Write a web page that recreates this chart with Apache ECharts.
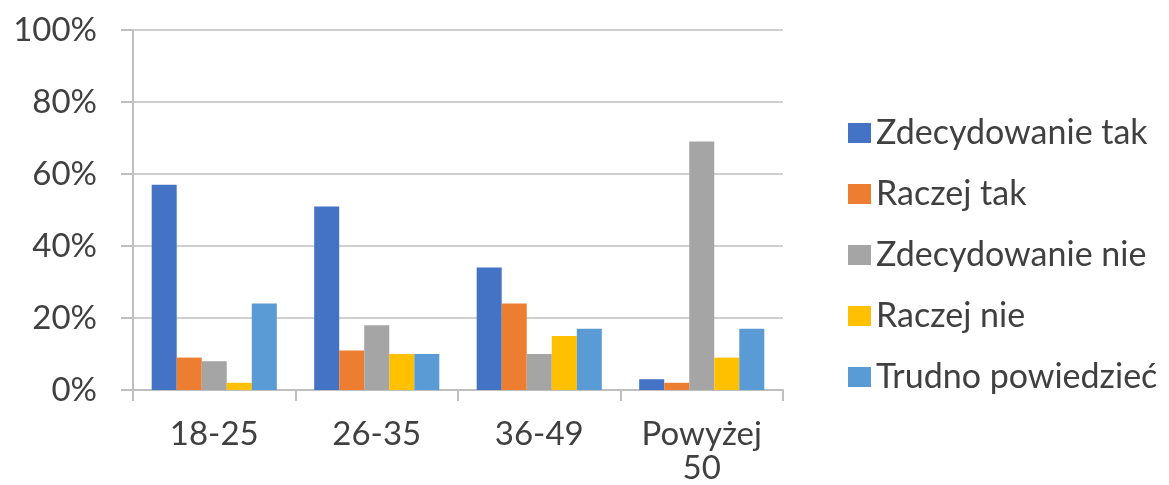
<!DOCTYPE html>
<html>
<head>
<meta charset="utf-8">
<script src="https://cdn.jsdelivr.net/npm/echarts@6/dist/echarts.min.js"></script>
<style>
  html, body { margin: 0; padding: 0; background: #fff; }
  #chart { width: 1169px; height: 485px; }
</style>
</head>
<body>
<div id="chart"></div>
<script>
const categories = ['18-25', '26-35', '36-49', 'Powyżej 50']
const seriesNames = ['Zdecydowanie tak', 'Raczej tak', 'Zdecydowanie nie', 'Raczej nie', 'Trudno powiedzieć']
const zdecydowanieTak = [57, 51, 34, 3]
const raczejTak = [9, 11, 24, 2]
const zdecydowanieNie = [8, 18, 10, 69]
const raczejNie = [2, 10, 15, 9]
const trudnoPowiedziec = [24, 10, 17, 17]
const yTicks = { min: 0, max: 100, interval: 20 }

const colors = ['#4472C4', '#ED7D31', '#A5A5A5', '#FFC000', '#5B9BD5']
const values = [zdecydowanieTak, raczejTak, zdecydowanieNie, raczejNie, trudnoPowiedziec]
const font = 'Lato, "Open Sans", sans-serif'

const chart = echarts.init(document.getElementById('chart'))

chart.setOption({
  animation: false,
  color: colors,
  grid: { left: 133, right: 386, top: 30, bottom: 95, outerBoundsMode: 'none' },
  legend: {
    orient: 'vertical',
    left: 843,
    top: 111,
    itemWidth: 23,
    itemHeight: 20,
    itemGap: 27,
    icon: 'rect',
    data: seriesNames,
    textStyle: {
      fontFamily: font,
      fontSize: 34,
      color: '#404040'
    }
  },
  xAxis: {
    type: 'category',
    data: categories,
    axisLine: { lineStyle: { color: '#bfbfbf', width: 2 } },
    axisTick: { show: true, length: 11, lineStyle: { color: '#bfbfbf', width: 2 } },
    axisLabel: {
      margin: 27,
      fontFamily: font,
      fontSize: 33,
      lineHeight: 34,
      color: '#404040',
      formatter: v => v.replace(' ', '\n')
    }
  },
  yAxis: {
    type: 'value',
    min: yTicks.min,
    max: yTicks.max,
    interval: yTicks.interval,
    axisLine: { show: true, lineStyle: { color: '#bfbfbf', width: 2 } },
    axisTick: { show: true, length: 12, lineStyle: { color: '#bfbfbf', width: 2 } },
    splitLine: { lineStyle: { color: '#d0d0d0', width: 2 } },
    axisLabel: {
      margin: 36,
      fontFamily: font,
      fontSize: 33,
      color: '#404040',
      formatter: '{value}%'
    }
  },
  series: values.map((data, i) => ({
    name: seriesNames[i],
    type: 'bar',
    data: data,
    barGap: '0%',
    barCategoryGap: '23%'
  }))
})
</script>
</body>
</html>
